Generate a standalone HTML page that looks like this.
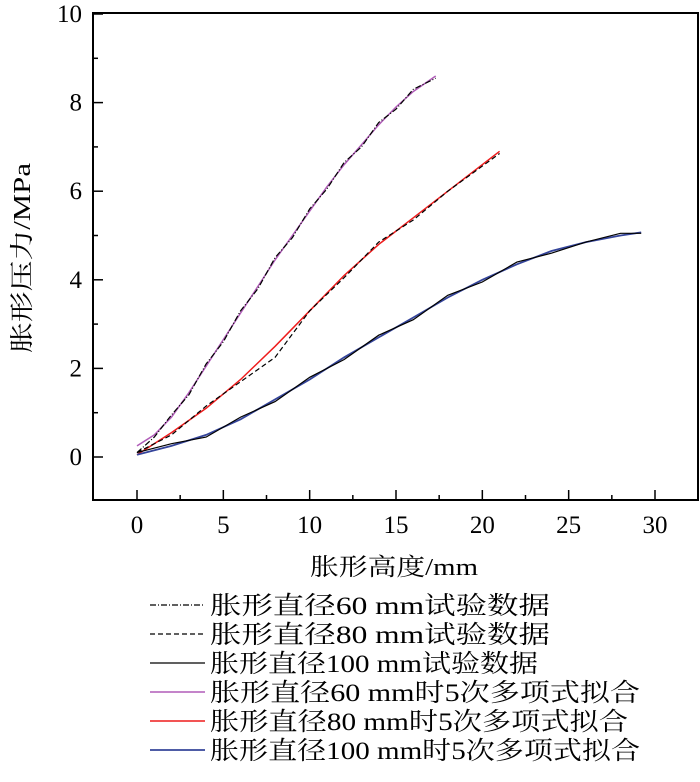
<!DOCTYPE html>
<html><head><meta charset="utf-8"><style>
body{margin:0;background:#fff;}
svg text{font-family:"Liberation Serif","Noto Serif CJK SC",serif;fill:#000;}
</style></head><body>
<svg id="chart" width="700" height="777">
<g id="axes"></g><g id="series"></g><g id="legend"></g>
</svg>
<script>
const xTicks=[0,5,10,15,20,25,30];
const yTicks=[0,2,4,6,8,10];
const fitX60=[0,1,2,3,4,5,6,7,8,9,10,11,12,13,14,15,16,17.3];
const fitY60=[0.25,0.5,0.9,1.45,2.05,2.65,3.25,3.85,4.45,5.0,5.55,6.1,6.6,7.05,7.5,7.9,8.25,8.6];
const expY60=[0.1,0.45,0.95,1.4,2.1,2.6,3.3,3.8,4.5,4.95,5.6,6.05,6.65,7.0,7.55,7.85,8.3,8.55];
const fitX80=[0,2,4,6,8,10,12,14,16,18,21];
const fitY80=[0.05,0.55,1.1,1.75,2.5,3.3,4.1,4.8,5.4,6.0,6.9];
const expY80=[0.1,0.5,1.15,1.7,2.25,3.3,4.05,4.85,5.35,6.0,6.85];
const fitX100=[0,2,4,6,8,10,12,14,16,18,20,22,24,26,28,29.2];
const fitY100=[0.05,0.25,0.5,0.85,1.3,1.75,2.25,2.7,3.15,3.6,4.0,4.35,4.65,4.85,5.0,5.07];
const expY100=[0.1,0.3,0.45,0.9,1.25,1.8,2.2,2.75,3.1,3.65,3.95,4.4,4.6,4.85,5.05,5.05];
const legendLabels=["胀形直径60 mm试验数据","胀形直径80 mm试验数据","胀形直径100 mm试验数据","胀形直径60 mm时5次多项式拟合","胀形直径80 mm时5次多项式拟合","胀形直径100 mm时5次多项式拟合"];
const legendLen=[340,340,328,430,418,430];
const X=v=>137+v*(655-137)/30;
const Y=v=>457-v*(457-14)/10;
const NS="http://www.w3.org/2000/svg";
function mk(t,a,p){const e=document.createElementNS(NS,t);for(const k in a)e.setAttribute(k,a[k]);p.appendChild(e);return e;}
const ax=document.getElementById('axes');
const frame=mk('rect',{x:93,y:13,width:605,height:487,fill:'none',stroke:'#000','stroke-width':2},ax);


xTicks.forEach((t,i)=>{
 const l=mk('line',{x1:X(t),x2:X(t),y1:500,y2:490,stroke:'#000','stroke-width':1.5},ax);
 
 
 if(i<xTicks.length-1){const m=mk('line',{x1:X(t+2.5),x2:X(t+2.5),y1:500,y2:495,stroke:'#000','stroke-width':1.5},ax);
 
 }
 const tx=mk('text',{x:X(t),y:533,'text-anchor':'middle','font-size':25},ax);tx.textContent=t;
 
 
});
yTicks.forEach((t,i)=>{
 const l=mk('line',{x1:93,x2:103,y1:Y(t),y2:Y(t),stroke:'#000','stroke-width':1.5},ax);
 
 
 if(i<yTicks.length-1){const m=mk('line',{x1:93,x2:98,y1:Y(t+1),y2:Y(t+1),stroke:'#000','stroke-width':1.5},ax);
 
 }
 const tx=mk('text',{x:82,y:Y(t)+8,'text-anchor':'end','font-size':25},ax);tx.textContent=t;
 
 
});
const xt=mk('text',{x:310,y:575,'font-size':24,textLength:168,lengthAdjust:'spacingAndGlyphs'},ax);xt.textContent='胀形高度/mm';


const yt=mk('text',{x:0,y:0,'text-anchor':'middle','font-size':24,textLength:190,lengthAdjust:'spacingAndGlyphs',transform:'translate(30,258) rotate(-90)'},ax);yt.textContent='胀形压力/MPa';


const sg=document.getElementById('series');
function path(xs,ys){return xs.map((x,i)=>(i?'L':'M')+X(x).toFixed(1)+','+Y(ys[i]).toFixed(1)).join(' ');}
const styles=[
 {xs:fitX60,ys:expY60,c:'#000',d:'6,2,1,2',w:1.2,n:'exp-60mm-line'},
 {xs:fitX80,ys:expY80,c:'#000',d:'5,3',w:1.2,n:'exp-80mm-line'},
 {xs:fitX100,ys:expY100,c:'#000',d:'',w:1.2,n:'exp-100mm-line'},
 {xs:fitX60,ys:fitY60,c:'#b05cb8',d:'',w:1.5,n:'fit-60mm-line'},
 {xs:fitX80,ys:fitY80,c:'#ee1c1c',d:'',w:1.5,n:'fit-80mm-line'},
 {xs:fitX100,ys:fitY100,c:'#34449a',d:'',w:1.8,n:'fit-100mm-line'}];
const order=[3,4,5,0,1,2];
order.forEach(i=>{const s=styles[i];
 const p=mk('path',{d:path(s.xs,s.ys),fill:'none',stroke:s.c,'stroke-width':s.w,'stroke-dasharray':s.d},sg);
 
 
});
const lg=document.getElementById('legend');
legendLabels.forEach((t,i)=>{const s=styles[i];const y=605+i*29;
 const l=mk('line',{x1:150,x2:205,y1:y,y2:y,stroke:s.c,'stroke-width':s.w,'stroke-dasharray':s.d},lg);
 
 
 const tx=mk('text',{x:210,y:y+9,'font-size':25,textLength:legendLen[i],lengthAdjust:'spacingAndGlyphs'},lg);tx.textContent=t;
 
 
});
</script>
</body></html>
